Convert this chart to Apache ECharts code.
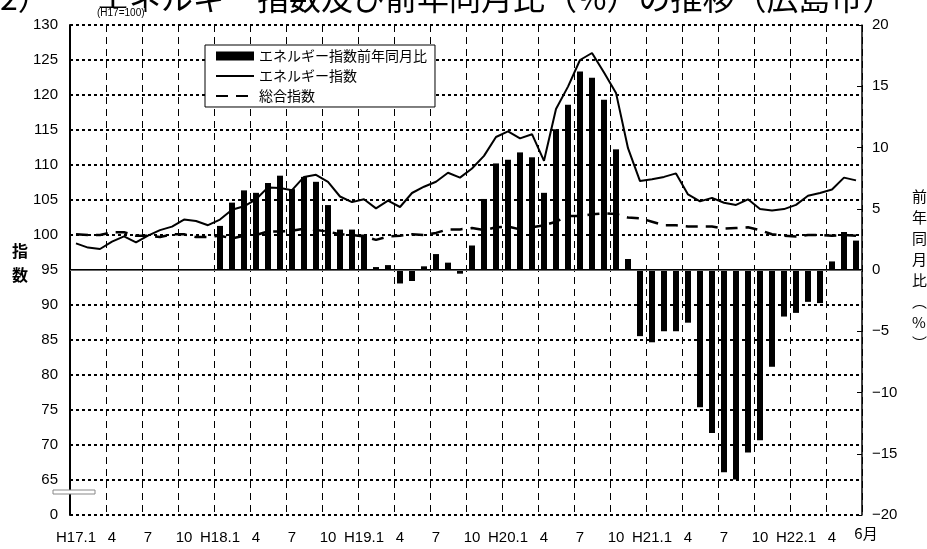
<!DOCTYPE html>
<html><head><meta charset="utf-8">
<script src="https://cdn.jsdelivr.net/npm/echarts@6/dist/echarts.min.js"></script>
<style>html,body{margin:0;padding:0;background:#fff}#c{width:927px;height:549px}</style>
</head><body><div id="c"></div>
<script>
// Months H17.1 .. H22.6
const categories = [
 "H17.1","H17.2","H17.3","H17.4","H17.5","H17.6","H17.7","H17.8","H17.9","H17.10","H17.11","H17.12",
 "H18.1","H18.2","H18.3","H18.4","H18.5","H18.6","H18.7","H18.8","H18.9","H18.10","H18.11","H18.12",
 "H19.1","H19.2","H19.3","H19.4","H19.5","H19.6","H19.7","H19.8","H19.9","H19.10","H19.11","H19.12",
 "H20.1","H20.2","H20.3","H20.4","H20.5","H20.6","H20.7","H20.8","H20.9","H20.10","H20.11","H20.12",
 "H21.1","H21.2","H21.3","H21.4","H21.5","H21.6","H21.7","H21.8","H21.9","H21.10","H21.11","H21.12",
 "H22.1","H22.2","H22.3","H22.4","H22.5","H22.6"
];
// エネルギー指数 (left axis)
const energyIndex = [
 98.8, 98.2, 98.0, 99.05, 99.8, 98.95, 99.9, 100.7, 101.2, 102.2, 102.0, 101.4,
 102.2, 103.6, 104.1, 105.1, 106.8, 106.7, 106.4, 108.3, 108.6, 107.6, 105.5, 104.7,
 105.1, 103.8, 104.9, 104.0, 106.0, 106.9, 107.6, 108.9, 108.2, 109.5, 111.3, 114.0,
 114.8, 113.8, 114.4, 110.6, 118.0, 121.2, 125.0, 126.0, 123.2, 120.3, 112.4, 107.7,
 107.95, 108.3, 108.8, 105.8, 104.8, 105.3, 104.6, 104.3, 105.1, 103.7, 103.5, 103.7,
 104.3, 105.6, 106.0, 106.5, 108.2, 107.8
];
// 総合指数 (left axis)
const compositeIndex = [
 100.1, 100.0, 100.0, 100.4, 100.4, 99.9, 99.9, 99.7, 100.1, 100.1, 99.7, 99.7,
 99.9, 99.5, 99.9, 100.0, 100.5, 100.5, 100.6, 100.9, 100.7, 100.5, 100.1, 100.0,
 99.8, 99.3, 99.8, 99.9, 100.1, 100.0, 100.3, 100.8, 100.8, 101.0, 100.7, 101.1,
 101.2, 100.8, 101.1, 101.4, 101.9, 102.7, 102.7, 102.95, 103.1, 103.0, 102.5, 102.4,
 101.9, 101.4, 101.4, 101.2, 101.2, 101.2, 100.9, 101.0, 101.1, 100.7, 100.1, 99.9,
 99.8, 100.0, 100.0, 99.9, 100.0, 99.9
];
// エネルギー指数前年同月比 (%) (right axis)
const energyYoY = [
 null, null, null, null, null, null, null, null, null, null, null, null,
 3.6, 5.5, 6.5, 6.3, 7.1, 7.7, 6.6, 7.6, 7.2, 5.3, 3.3, 3.3,
 2.9, 0.24, 0.4, -1.1, -0.9, 0.3, 1.3, 0.6, -0.3, 2.0, 5.8, 8.7,
 9.0, 9.6, 9.2, 6.3, 11.5, 13.5, 16.2, 15.7, 13.9, 9.85, 0.9, -5.4,
 -5.9, -5.0, -5.0, -4.3, -11.2, -13.3, -16.5, -17.1, -14.9, -13.9, -7.9, -3.8,
 -3.5, -2.6, -2.7, 0.7, 3.1, 2.4
];
const seriesNames = ["エネルギー指数前年同月比", "エネルギー指数", "総合指数"];
const labelMonths = ["1", "4", "7", "10"];

const NUM = "'Liberation Sans', 'Noto Sans CJK JP', sans-serif";
const JP = "'Noto Sans CJK JP', sans-serif";

const chart = echarts.init(document.getElementById('c'), null, {renderer: 'canvas'});
chart.setOption({
  animation: false,
  backgroundColor: '#fff',
  grid: {left: 70, right: 65, top: 25, bottom: 34, containLabel: false},
  legend: {
    data: [
      {name: seriesNames[0], icon: 'rect'},
      {name: seriesNames[1], itemStyle: {opacity: 0}},
      {name: seriesNames[2], itemStyle: {opacity: 0}}
    ],
    orient: 'vertical',
    left: 205, top: 45,
    itemWidth: 38, itemHeight: 9, itemGap: 6,
    padding: [4, 8, 4, 10],
    borderColor: '#000', borderWidth: 1, backgroundColor: '#fff',
    textStyle: {fontSize: 14, fontFamily: JP, color: '#000'}
  },
  xAxis: {
    type: 'category', data: categories, boundaryGap: true,
    axisLine: {lineStyle: {color: '#000', width: 2}},
    axisTick: {show: false},
    axisLabel: {
      interval: 0, margin: 15, fontSize: 15, fontFamily: NUM, color: '#000',
      formatter: function (v, i) {
        const parts = v.split('.');
        if (i === categories.length - 1) return '';
        if (parts[1] === '1') return v;
        if (labelMonths.indexOf(parts[1]) >= 0) return parts[1];
        return '';
      }
    },
    splitLine: {show: true, interval: function (i) { return i > 0 && i % 3 === 0; },
      lineStyle: {color: '#000', width: 1, type: [7, 5]}}
  },
  yAxis: [
    {type: 'value', min: 60, max: 130, interval: 5, position: 'left',
     axisLine: {show: true, lineStyle: {color: '#000', width: 2}},
     axisTick: {show: false},
     axisLabel: {fontSize: 15, fontFamily: NUM, color: '#000', margin: 12,
       formatter: function (v) { return v === 60 ? '0' : String(v); }},
     splitLine: {show: true, lineStyle: {color: '#000', width: 2, type: [3, 3]}}},
    {type: 'value', min: -20, max: 20, interval: 5, position: 'right',
     axisLine: {show: true, lineStyle: {color: '#000', width: 1.5}},
     axisTick: {show: true, inside: true, length: 5, lineStyle: {color: '#000'}},
     axisLabel: {fontSize: 15, fontFamily: NUM, color: '#000', margin: 10,
       formatter: function (v) { return v < 0 ? '\u2212' + Math.abs(v) : String(v); }},
     splitLine: {show: false}}
  ],
  series: [
    {name: seriesNames[0], type: 'bar', yAxisIndex: 1, data: energyYoY, barWidth: 6,
     itemStyle: {color: '#000'}, z: 3,
     markLine: {silent: true, symbol: 'none', label: {show: false},
       lineStyle: {color: '#666', width: 1, type: 'solid'}, data: [{yAxis: 0}]}},
    {name: seriesNames[1], type: 'line', yAxisIndex: 0, data: energyIndex,
     symbol: 'none', showSymbol: false, z: 4,
     lineStyle: {color: '#000', width: 2}, itemStyle: {color: '#000'}},
    {name: seriesNames[2], type: 'line', yAxisIndex: 0, data: compositeIndex,
     symbol: 'none', showSymbol: false, z: 4,
     lineStyle: {color: '#000', width: 2.5, type: [12, 8]}, itemStyle: {color: '#000'}}
  ]
});

const lastX = chart.convertToPixel({xAxisIndex: 0}, categories[categories.length - 1]);
chart.setOption({
  graphic: [
    {type: 'text', left: -32, top: -18, style: {text: '（2）', font: "32px 'Noto Sans CJK JP'", fill: '#000'}},
    {type: 'text', left: 97, top: -18, style: {text: 'エネルギー指数及び前年同月比（%）の推移（広島市）', font: "32px 'Noto Sans CJK JP'", fill: '#000'}},
    {type: 'text', left: 97, top: 8, style: {text: '(H17=100)', font: "10px 'Liberation Sans Narrow', 'Liberation Sans'", fill: '#000', backgroundColor: '#fff'}},
    {type: 'text', left: 12, top: 243, style: {text: '指', font: "bold 16px 'Noto Sans CJK JP'", fill: '#000'}},
    {type: 'text', left: 12, top: 267, style: {text: '数', font: "bold 16px 'Noto Sans CJK JP'", fill: '#000'}},
    {type: 'text', left: 912, top: 186, style: {text: '前\n年\n同\n月\n比\n︵\n%\n︶', font: "15px 'Noto Sans CJK JP'", lineHeight: 21, align: 'center', fill: '#000'}},
    {type: 'text', x: lastX + 10, y: 526, style: {text: '6月', font: "15px 'Noto Sans CJK JP'", align: 'center', verticalAlign: 'top', fill: '#000'}},
    {type: 'rect', shape: {x: 53, y: 490, width: 42, height: 4}, style: {fill: '#fff', stroke: '#888', lineWidth: 1}, z: 100}
  ]
});
</script></body></html>
